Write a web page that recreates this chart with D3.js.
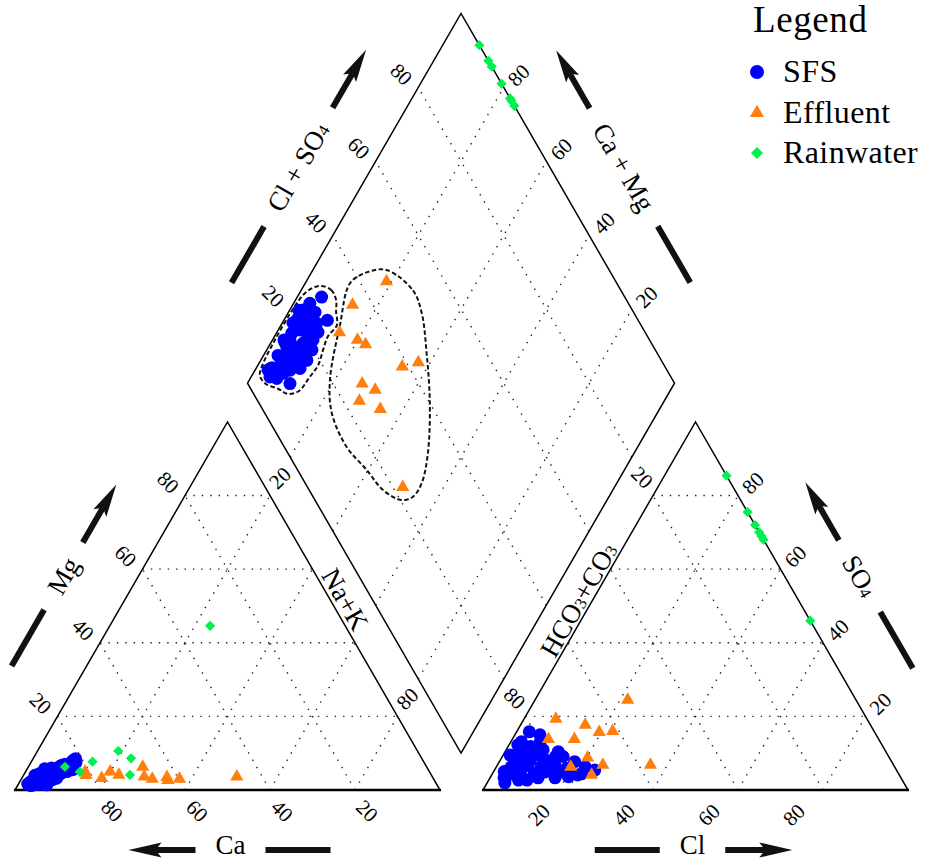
<!DOCTYPE html>
<html><head><meta charset="utf-8">
<script src="https://cdn.jsdelivr.net/npm/d3@7"></script>
<style>
body{margin:0;background:#fff}
svg{display:block}
text{font-family:"Liberation Serif","DejaVu Serif",serif;fill:#000}
</style>
</head><body>
<svg id="c" width="935" height="861"></svg>
<script>
// ---------------- DATA (percent of meq) ----------------
const tickValues = [20, 40, 60, 80];
const groups = ["SFS", "Effluent", "Rainwater"];
const groupColors = ["#0000FF", "#FF7F0E", "#00F050"];

// SFS samples
const sfsMg  = [3.5,7.0,2.0,4.5,2.8,5.5,8.0,6.0,7.5,5.0,4.0,5.0,3.0,4.5,1.8,3.9,2.6,1.5,2.2,8.5,6.2,7.0,5.5,3.2,5.8,6.0,1.6,4.5,1.2,2.8,2.2,5.8,6.5,2.5,4.0,1.3,1.6,2.4,4.2,3.6,1.4,3.0,2.0,4.8,3.4,2.0,5.5,6.8,3.6];
const sfsNaK = [5.7,10.2,3.8,6.2,4.9,8.1,9.6,9.5,10.6,9.7,7.6,5.1,3.0,3.6,4.3,4.9,3.9,4.4,6.2,10.0,10.3,8.4,10.8,8.2,7.0,5.6,5.7,8.6,3.1,7.4,2.5,4.1,7.4,5.4,2.7,3.4,2.2,3.0,5.4,6.9,6.8,4.5,3.2,6.5,4.0,6.0,5.0,7.8,3.5];
const sfsSO4 = [5.4,6.3,7.7,4.4,5.4,4.1,9.1,4.9,10.9,3.3,8.7,6.3,13.1,11.8,10.9,5.0,4.1,1.9,5.0,5.4,4.5,3.3,4.9,8.2,2.7,6.3,13.1,6.3,10.4,5.9,15.8,10.3,15.0,6.3,9.5,3.3,3.6,3.3,9.1,8.2,2.7,9.5,12.2,6.8,8.2,6.8,8.2,10.3,4.9];
const sfsCl  = [23.6,20.9,17.7,21.0,17.4,20.2,14.3,16.3,8.7,15.3,9.7,13.2,6.9,5.3,3.2,6.1,3.9,4.2,2.5,4.5,9.8,11.3,12.1,3.5,7.0,6.4,2.5,10.5,12.5,16.7,3.0,5.5,5.9,3.5,4.9,7.6,18.3,3.3,12.5,7.1,9.0,1.6,2.1,7.2,10.5,13.5,4.6,7.1,2.7];

// Effluent samples
const effMg  = [3.2,5.0,4.0,5.0,4.1,3.5,3.0,6.3,3.0,3.6,2.7,3.6];
const effNaK = [18.8,14.0,14.7,19.9,22.4,34.0,37.2,26.9,30.8,28.6,34.6,50.4];
const effSO4 = [24.5,15.7,13.8,6.8,17.7,16.0,6.8,19.3,8.8,6.3,4.1,13.8];
const effCl  = [21.8,19.5,14.6,24.8,15.2,22.5,36.0,7.5,20.2,17.5,23.5,8.5];

// Rainwater samples
const rainMg  = [6.3,4.9,7.7,10.6,8.6,4.1,44.6];
const rainNaK = [8.6,12.8,14.4,19.0,23.0,25.0,23.6];
const rainSO4 = [85.4,75.5,72.0,70.0,69.0,68.0,46.0];
const rainCl  = [14.6,24.5,28.0,30.0,31.0,32.0,54.0];

// Hand-drawn group envelopes in the diamond (Cl+SO4 %, Ca+Mg %)
const sfsHullClSO4 = [30.1,32.2,32.0,30.4,28.8,25.2,22.2,19.0,15.1,11.0,8.0,6.4,4.2,3.9,5.7,11.8,19.8,26.0];
const sfsHullCaMg  = [96.2,93.0,90.5,88.9,86.9,87.5,86.8,85.9,86.3,86.9,89.1,92.1,95.6,98.1,98.9,99.4,99.4,98.6];
const effHullClSO4 = [47.9,51.3,50.3,46.0,40.0,32.8,27.3,23.4,20.3,17.3,16.2,14.6,15.7,19.7,29.5,37.6,43.3];
const effHullCaMg  = [82.7,73.8,68.7,62.1,54.6,48.3,45.7,45.9,48.1,53.8,60.3,68.2,76.2,81.1,86.2,89.5,86.8];

// ---------------- GEOMETRY ----------------
const svg = d3.select("#c");
const H = Math.sqrt(3) / 2;
const side = 425, dSide = 427;
const cat0 = [15, 790], an0 = [483, 790], dBot = [461, 753];
const sc = d3.scaleLinear().domain([0, 100]).range([0, side]);
const sd = d3.scaleLinear().domain([0, 100]).range([0, dSide]);
const tern = (o, r, t) => [o[0] + sc(r) + sc(t) / 2, o[1] - sc(t) * H];
const diam = (a, c) => [dBot[0] + (sd(a) - sd(c)) / 2, dBot[1] - (sd(a) + sd(c)) * H];

function seg(g, p, q) {
  g.append("line").attr("x1", p[0]).attr("y1", p[1]).attr("x2", q[0]).attr("y2", q[1]);
}

// ---------------- GRID ----------------
const grid = svg.append("g").attr("stroke", "#222").attr("stroke-width", 1.4)
  .attr("stroke-dasharray", "1.4 7").attr("fill", "none");
[cat0, an0].forEach(o => tickValues.forEach(v => {
  seg(grid, tern(o, 0, v), tern(o, 100 - v, v));
  seg(grid, tern(o, v, 0), tern(o, v, 100 - v));
  seg(grid, tern(o, 100 - v, 0), tern(o, 0, 100 - v));
}));
tickValues.forEach(v => {
  seg(grid, diam(v, 0), diam(v, 100));
  seg(grid, diam(0, v), diam(100, v));
});

// ---------------- FRAMES ----------------
const frame = svg.append("g").attr("stroke", "#000").attr("fill", "none").attr("stroke-width", 1.5);
[cat0, an0].forEach(o => {
  frame.append("path").attr("d", d3.line()([tern(o, 0, 0), tern(o, 100, 0), tern(o, 0, 100)]) + "Z");
  frame.append("line").attr("stroke-width", 2.6)
    .attr("x1", tern(o, 0, 0)[0] - 1).attr("y1", tern(o, 0, 0)[1])
    .attr("x2", tern(o, 100, 0)[0] + 1).attr("y2", tern(o, 100, 0)[1]);
});
frame.append("path").attr("d", d3.line()([diam(0, 0), diam(100, 0), diam(100, 100), diam(0, 100)]) + "Z");

// ---------------- TICK LABELS ----------------
const tl = svg.append("g").attr("font-size", 21).attr("text-anchor", "middle");
function tick(p, off, rot, txt) {
  tl.append("text").attr("dominant-baseline", "central")
    .attr("transform", `translate(${p[0] + off[0]},${p[1] + off[1]}) rotate(${rot})`).text(txt);
}
tickValues.forEach(v => {
  tick(tern(cat0, 100 - v, 0), [12, 21], 45, v);        // Ca
  tick(tern(cat0, 0, v), [-17, -13], 45, v);             // Mg
  tick(tern(an0, v, 0), [-29, 25], -45, v);              // Cl
  tick(tern(an0, 100 - v, v), [15, -12.5], -45, v);      // SO4
  tick(diam(v, 100), [-17, -13], 45, v);                 // Cl+SO4
  tick(diam(100, v), [15, -12], -45, v);                 // Ca+Mg
});
[20, 80].forEach(v => {
  tick(tern(cat0, v, 100 - v), [10, -17.5], -45, v);     // Na+K
  tick(tern(an0, 0, 100 - v), [-11, -18], 45, v);        // HCO3+CO3
});

// ---------------- AXIS TITLES + ARROWS ----------------
function addParts(t, parts) {
  let shifted = false;
  parts.forEach(([s, sub]) => {
    const ts = t.append("tspan").attr("dominant-baseline", "central").text(s);
    if (sub && !shifted) { ts.attr("font-size", "62%").attr("dy", 3); shifted = true; }
    else if (!sub && shifted) { ts.attr("dy", -3); shifted = false; }
    else if (sub) ts.attr("font-size", "62%");
  });
}
function axisTitle(cfg) {
  const [mx, my] = cfg.mid, [nx, ny] = cfg.normal, [ux, uy] = cfg.dir;
  const tdist = cfg.textDist !== undefined ? cfg.textDist : cfg.dist;
  const cx = mx + nx * cfg.dist + ux * cfg.shift, cy = my + ny * cfg.dist + uy * cfg.shift;
  const tx = mx + nx * tdist + ux * cfg.shift, ty = my + ny * tdist + uy * cfg.shift;
  const t = svg.append("text").attr("font-size", 27).attr("text-anchor", "middle")
    .attr("dominant-baseline", "central")
    .attr("transform", `translate(${tx},${ty}) rotate(${cfg.rot})`);
  addParts(t, cfg.parts);
  if (!cfg.arrow) return;
  const w = t.node().getComputedTextLength();
  const g0 = w / 2 + 20, aLen = 67, sLen = 65, headLen = 33, hw = 7.5;
  const P = d => [cx + ux * d, cy + uy * d];
  const px = -uy, py = ux;
  const ag = svg.append("g").attr("fill", "#111").attr("stroke", "#111");
  const tip = P(g0 + aLen), hb = P(g0 + aLen - headLen), notch = P(g0 + aLen - headLen + 6);
  ag.append("line").attr("stroke-width", 6)
    .attr("x1", P(g0)[0]).attr("y1", P(g0)[1]).attr("x2", notch[0]).attr("y2", notch[1]);
  ag.append("path").attr("stroke", "none").attr("d", d3.line()([
    tip, [hb[0] + px * hw, hb[1] + py * hw], notch, [hb[0] - px * hw, hb[1] - py * hw]
  ]) + "Z");
  ag.append("line").attr("stroke-width", 6)
    .attr("x1", P(-g0)[0]).attr("y1", P(-g0)[1]).attr("x2", P(-g0 - sLen)[0]).attr("y2", P(-g0 - sLen)[1]);
}
const midPt = (p, q) => [(p[0] + q[0]) / 2, (p[1] + q[1]) / 2];
axisTitle({ mid: midPt(tern(cat0, 0, 0), tern(cat0, 100, 0)), normal: [0, 1], dist: 60, textDist: 55, dir: [-1, 0], shift: -3, rot: 0, parts: [["Ca", false]], arrow: true });
axisTitle({ mid: midPt(tern(an0, 0, 0), tern(an0, 100, 0)), normal: [0, 1], dist: 60, textDist: 55, dir: [1, 0], shift: -3, rot: 0, parts: [["Cl", false]], arrow: true });
axisTitle({ mid: midPt(tern(cat0, 0, 0), tern(cat0, 0, 100)), normal: [-H, -0.5], dist: 65, dir: [0.5, -H], shift: -3, rot: -60, parts: [["Mg", false]], arrow: true });
axisTitle({ mid: midPt(tern(an0, 100, 0), tern(an0, 0, 100)), normal: [H, -0.5], dist: 65, dir: [-0.5, -H], shift: -3, rot: 60, parts: [["SO", false], ["4", true]], arrow: true });
axisTitle({ mid: midPt(diam(0, 100), diam(100, 100)), normal: [-H, -0.5], dist: 64, dir: [0.5, -H], shift: -1, rot: -60, parts: [["Cl + SO", false], ["4", true]], arrow: true });
axisTitle({ mid: midPt(diam(100, 0), diam(100, 100)), normal: [H, -0.5], dist: 64, dir: [-0.5, -H], shift: -1, rot: 60, parts: [["Ca + Mg", false]], arrow: true });
axisTitle({ mid: midPt(tern(cat0, 100, 0), tern(cat0, 0, 100)), normal: [H, -0.5], dist: 13, dir: [0.5, H], shift: 0, rot: 60, parts: [["Na+K", false]], arrow: false });
axisTitle({ mid: midPt(tern(an0, 0, 0), tern(an0, 0, 100)), normal: [-H, -0.5], dist: 12, dir: [0.5, -H], shift: 0, rot: -60, parts: [["HCO", false], ["3", true], ["+CO", false], ["3", true]], arrow: false });

// ---------------- ENVELOPES ----------------
const env = d3.line().curve(d3.curveCatmullRomClosed.alpha(0.5));
const envG = svg.append("g").attr("fill", "none").attr("stroke", "#111").attr("stroke-width", 2).attr("stroke-dasharray", "4.5 2.5");
envG.append("path").attr("d", env(sfsHullClSO4.map((a, i) => diam(a, sfsHullCaMg[i]))));
envG.append("path").attr("d", env(effHullClSO4.map((a, i) => diam(a, effHullCaMg[i]))));

// ---------------- POINTS ----------------
const samples = [
  { mg: sfsMg, nak: sfsNaK, so4: sfsSO4, cl: sfsCl },
  { mg: effMg, nak: effNaK, so4: effSO4, cl: effCl },
  { mg: rainMg, nak: rainNaK, so4: rainSO4, cl: rainCl }
];
const sym = [d3.symbol(d3.symbolCircle, 133), d3.symbol(d3.symbolTriangle, 76), d3.symbol(d3.symbolSquare, 52)];
const rotSym = [0, 0, 45];
const pts = svg.append("g");
samples.forEach((s, gi) => {
  const g = pts.append("g").attr("fill", groupColors[gi]);
  s.mg.forEach((mg, i) => {
    const nak = s.nak[i], so4 = s.so4[i], cl = s.cl[i];
    const places = [tern(cat0, nak, mg), tern(an0, cl, so4), diam(so4 + cl, 100 - nak)];
    places.forEach(p => g.append("path").attr("d", sym[gi]())
      .attr("transform", `translate(${p[0]},${p[1]}) rotate(${rotSym[gi]})`));
  });
});

// ---------------- LEGEND ----------------
const lg = svg.append("g");
lg.append("text").attr("x", 753).attr("y", 32).attr("font-size", 37).attr("letter-spacing", 0.6).text("Legend");
const legSym = [d3.symbol(d3.symbolCircle, 154), d3.symbol(d3.symbolTriangle, 88), d3.symbol(d3.symbolSquare, 72)];
const legY = [72, 113, 153];
groups.forEach((name, i) => {
  lg.append("path").attr("d", legSym[i]()).attr("fill", groupColors[i])
    .attr("transform", `translate(757,${legY[i]}) rotate(${rotSym[i]})`);
  lg.append("text").attr("x", 783).attr("y", legY[i] + 10).attr("font-size", 32).attr("letter-spacing", 0.4).text(name);
});
</script>
</body></html>
